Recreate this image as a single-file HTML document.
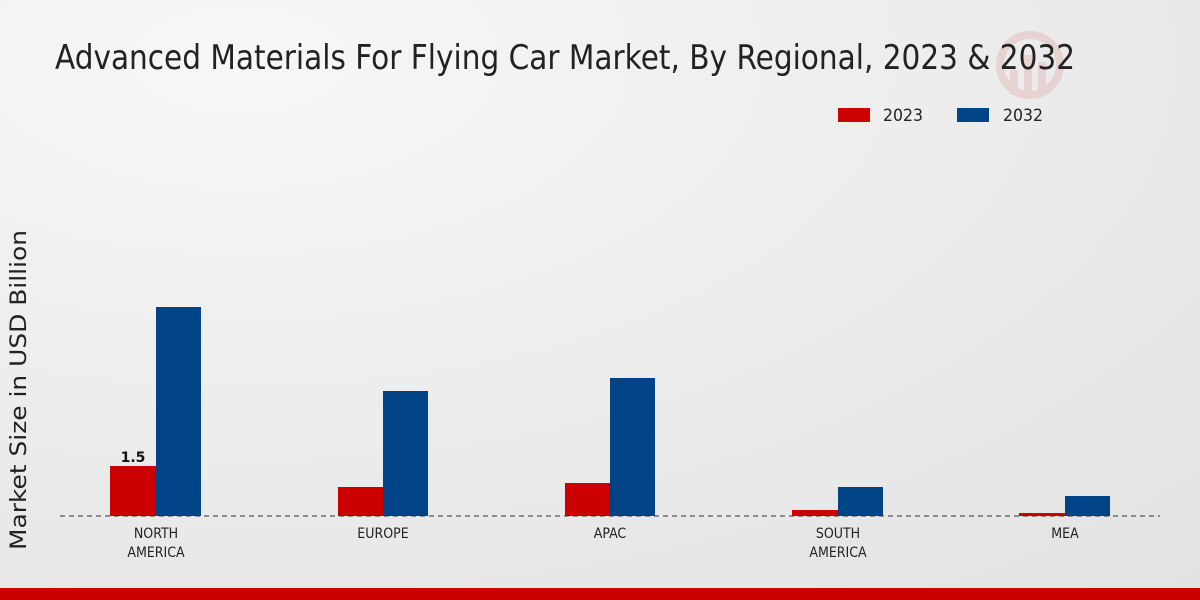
<!DOCTYPE html>
<html><head><meta charset="utf-8"><style>
html,body{margin:0;padding:0;width:1200px;height:600px;overflow:hidden}
</style></head><body>
<svg width="1200" height="600" xmlns="http://www.w3.org/2000/svg" font-family="'DejaVu Sans','Liberation Sans',sans-serif">
<defs><radialGradient id="bg" cx="0.2" cy="0.1" r="1.2"><stop offset="0" stop-color="#f7f7f7"/><stop offset="1" stop-color="#e2e2e2"/></radialGradient></defs>
<rect width="1200" height="600" fill="url(#bg)"/>
<rect x="0" y="588" width="1200" height="12" fill="#cc0000"/>
<g opacity="0.1" fill="#cc0000"><circle cx="1030" cy="65" r="30" fill="none" stroke="#cc0000" stroke-width="8"/><rect x="1010" y="70" width="8" height="25"/><rect x="1024" y="55" width="8" height="40"/><rect x="1038" y="62" width="8" height="33"/></g>
<text x="55" y="69" font-size="34" textLength="1020" lengthAdjust="spacingAndGlyphs" fill="#222">Advanced Materials For Flying Car Market, By Regional, 2023 &amp; 2032</text>
<rect x="838" y="108" width="32" height="14" fill="#cc0000"/>
<text x="883" y="121" font-size="17" textLength="40" lengthAdjust="spacingAndGlyphs" fill="#222">2023</text>
<rect x="957" y="108" width="32" height="14" fill="#004488"/>
<text x="1003" y="121" font-size="17" textLength="40" lengthAdjust="spacingAndGlyphs" fill="#222">2032</text>
<text transform="translate(26,390) rotate(-90)" text-anchor="middle" font-size="22" textLength="320" lengthAdjust="spacingAndGlyphs" fill="#222">Market Size in USD Billion</text>
<g fill="#cc0000">
<rect x="110" y="466" width="46" height="50"/>
<rect x="338" y="487" width="45" height="29"/>
<rect x="565" y="483" width="45" height="33"/>
<rect x="792" y="510" width="46" height="6"/>
<rect x="1019" y="513" width="46" height="3"/>
</g>
<g fill="#004488">
<rect x="156" y="307" width="45" height="209"/>
<rect x="383" y="391" width="45" height="125"/>
<rect x="610" y="378" width="45" height="138"/>
<rect x="838" y="487" width="45" height="29"/>
<rect x="1065" y="496" width="45" height="20"/>
</g>
<line x1="60" y1="516" x2="1160" y2="516" stroke="#333" stroke-dasharray="5,4" stroke-width="1"/>
<text x="133" y="462" text-anchor="middle" font-size="14" font-weight="bold" fill="#111">1.5</text>
<g font-size="14" fill="#222" text-anchor="middle" font-stretch="condensed" font-family="'DejaVu Sans Condensed','DejaVu Sans',sans-serif">
<text x="156" y="538">NORTH</text><text x="156" y="557">AMERICA</text>
<text x="383" y="538">EUROPE</text>
<text x="610" y="538">APAC</text>
<text x="838" y="538">SOUTH</text><text x="838" y="557">AMERICA</text>
<text x="1065" y="538">MEA</text>
</g>
</svg>
</body></html>
